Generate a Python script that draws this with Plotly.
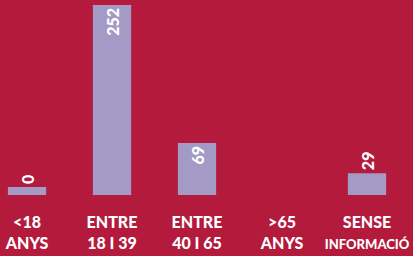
import plotly.graph_objects as go

# data
categories = ["<18 ANYS", "ENTRE 18 I 39", "ENTRE 40 I 65", ">65 ANYS", "SENSE INFORMACIÓ"]
tick_labels = ["<18<br>ANYS", "ENTRE<br>18 I 39", "ENTRE<br>40 I 65", ">65<br>ANYS",
               "SENSE<br><span style='font-size:13px'>INFORMACIÓ</span>"]
values = [0, 252, 69, None, 29]

BG = "#B31A3C"
BAR = "#A39BC6"

# zero-valued bars get a small visible stub, as in the original infographic
min_stub = 10.5
shown = [None if v is None else max(v, min_stub) for v in values]
labels = ["" if v is None else str(v) for v in values]
positions = ["inside" if (v is not None and v >= 60) else "outside" for v in values]

fig = go.Figure(go.Bar(
    x=list(range(len(categories))),
    y=shown,
    text=labels,
    textposition=positions,
    insidetextanchor="end",
    textangle=-90,
    textfont=dict(family="Lato", size=16, color="white", weight=900),
    constraintext="none",
    cliponaxis=False,
    marker=dict(color=BAR, line=dict(width=0)),
    width=0.45,
    hoverinfo="skip",
))

fig.update_layout(
    width=413, height=256,
    margin=dict(l=0, r=0, t=0, b=61),
    paper_bgcolor=BG, plot_bgcolor=BG,
    showlegend=False,
    xaxis=dict(
        tickmode="array",
        tickvals=list(range(len(categories))),
        ticktext=tick_labels,
        range=[-0.318, 4.541],
        showgrid=False, zeroline=False, showline=False,
        ticks="", ticklabelstandoff=16,
        ticklabeloverflow="allow",
        tickfont=dict(family="Lato", size=16, color="white", weight=900),
        automargin=False,
    ),
    yaxis=dict(
        range=[0, 258.6],
        visible=False,
        showgrid=False, zeroline=False,
    ),
)

fig.write_html(
    "out.html",
    config={"displayModeBar": False},
    post_script="document.body.style.margin='0';document.body.style.overflow='hidden';",
)
